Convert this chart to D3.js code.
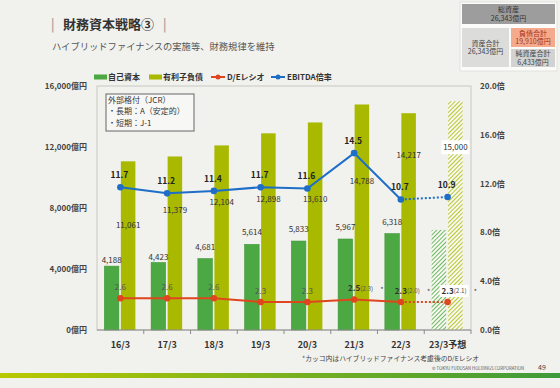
<!DOCTYPE html>
<html>
<head>
<meta charset="utf-8">
<script src="https://cdn.jsdelivr.net/npm/d3@7"></script>
<style>
  html, body { margin: 0; padding: 0; background: #f1f1ed; }
  svg { display: block; font-family: "Noto Sans CJK JP", "Noto Sans", sans-serif; }
</style>
</head>
<body>
<svg id="chart" width="560" height="388"></svg>
<script>
// data
const categories = ['16/3', '17/3', '18/3', '19/3', '20/3', '21/3', '22/3', '23/3予想'];
const equity = [4188, 4423, 4681, 5614, 5833, 5967, 6318, 6560];
const debt = [11061, 11379, 12104, 12898, 13610, 14788, 14217, 15000];
const ebitda = [11.7, 11.2, 11.4, 11.7, 11.6, 14.5, 10.7, 10.9];
const deRatio = [2.6, 2.6, 2.6, 2.3, 2.3, 2.5, 2.3, 2.3];
const deHybrid = [null, null, null, null, null, 2.3, 2.0, 2.1];
const leftTicks = [0, 4000, 8000, 12000, 16000];
const rightTicks = [0, 4, 8, 12, 16, 20];

// label placement (pixels, relative to bar top)
const equityLabelDy = [-3, -3, -9, -9, -9, -9, -9, null];
const debtLabelDy = [64, 54, 57, 66, 77, 77, 42, 46];

const svg = d3.select('#chart');
const W = 560, H = 388;
const plot = {left: 97, right: 471, top: 86, bottom: 330};
const nForecast = categories.length - 1;

const GREEN = '#4ca843', OLIVE = '#a8b900', RED = '#e0461e', BLUE = '#1e6ec8';

svg.append('rect').attr('width', W).attr('height', H).attr('fill', '#f1f1ed');

// hatch patterns for forecast bars
const defs = svg.append('defs');
function hatch(id, color) {
    const p = defs.append('pattern')
        .attr('id', id)
        .attr('patternUnits', 'userSpaceOnUse')
        .attr('width', 3).attr('height', 3)
        .attr('patternTransform', 'rotate(45)');
    p.append('rect').attr('width', 3).attr('height', 3).attr('fill', '#f7f8ef');
    p.append('line').attr('x1', 0).attr('y1', 0).attr('x2', 0).attr('y2', 3)
        .attr('stroke', color).attr('stroke-width', 1.6);
}
hatch('hatchGreen', GREEN);
hatch('hatchOlive', OLIVE);

const grad = defs.append('linearGradient').attr('id', 'footGrad');
grad.append('stop').attr('offset', '0%').attr('stop-color', '#b9c900');
grad.append('stop').attr('offset', '100%').attr('stop-color', '#3d9a3a');

// title
svg.append('text').attr('x', 51).attr('y', 29).attr('fill', '#8a8a8a')
    .attr('font-size', 13).text('|');
svg.append('text').attr('x', 63).attr('y', 29).attr('fill', '#333')
    .attr('font-size', 13).attr('font-weight', 'bold').text('財務資本戦略③');
svg.append('text').attr('x', 163).attr('y', 29).attr('fill', '#8a8a8a')
    .attr('font-size', 13).text('|');
svg.append('text').attr('x', 52).attr('y', 49.5).attr('fill', '#555')
    .attr('font-size', 9.3).text('ハイブリッドファイナンスの実施等、財務規律を維持');

// balance sheet box, top right
const bs = svg.append('g');
bs.append('rect').attr('x', 460).attr('y', 2).attr('width', 97).attr('height', 69)
    .attr('fill', '#fbfbfa').attr('stroke', '#e2e2de');
const bsBoxes = [
    {x: 462, y: 4, w: 93, h: 20, fill: '#9d9d9d', color: '#333', lines: ['総資産', '26,343億円']},
    {x: 462, y: 28, w: 47, h: 39, fill: '#dcdcda', color: '#444', lines: ['資産合計', '26,343億円']},
    {x: 511, y: 28, w: 44, h: 19, fill: '#f4aa8c', color: '#a5301a', lines: ['負債合計', '19,910億円']},
    {x: 511, y: 49, w: 44, h: 18, fill: '#d2d2d0', color: '#444', lines: ['純資産合計', '6,433億円']}
];
bsBoxes.forEach(b => {
    bs.append('rect').attr('x', b.x).attr('y', b.y).attr('width', b.w).attr('height', b.h)
        .attr('fill', b.fill);
    b.lines.forEach((t, i) => {
        bs.append('text')
            .attr('x', b.x + b.w / 2)
            .attr('y', b.y + b.h / 2 + (i - 0.5) * 8.5)
            .attr('dy', '0.35em')
            .attr('text-anchor', 'middle')
            .attr('font-size', 7)
            .attr('fill', b.color)
            .text(t);
    });
});

// legend
const legend = svg.append('g').attr('font-size', 8).attr('font-weight', 'bold').attr('fill', '#333');
legend.append('rect').attr('x', 94).attr('y', 74.5).attr('width', 13).attr('height', 5).attr('fill', GREEN);
legend.append('text').attr('x', 108).attr('y', 77).attr('dy', '0.35em').text('自己資本');
legend.append('rect').attr('x', 149).attr('y', 74.5).attr('width', 13).attr('height', 5).attr('fill', OLIVE);
legend.append('text').attr('x', 163).attr('y', 77).attr('dy', '0.35em').text('有利子負債');
[[211, RED, 'D/Eレシオ'], [271, BLUE, 'EBITDA倍率']].forEach(([lx, c, t]) => {
    legend.append('line').attr('x1', lx).attr('x2', lx + 14).attr('y1', 77).attr('y2', 77)
        .attr('stroke', c).attr('stroke-width', 2);
    legend.append('circle').attr('cx', lx + 7).attr('cy', 77).attr('r', 2.5).attr('fill', c);
    legend.append('text').attr('x', lx + 16).attr('y', 77).attr('dy', '0.35em').text(t);
});

// scales
const x = d3.scaleBand().domain(categories).range([plot.left, plot.right]).padding(0);
const yL = d3.scaleLinear().domain([0, 16000]).range([plot.bottom, plot.top]);
const yR = d3.scaleLinear().domain([0, 20]).range([plot.bottom, plot.top]);
const cx = c => x(c) + x.bandwidth() / 2;

// frame
svg.append('rect')
    .attr('x', plot.left).attr('y', plot.top)
    .attr('width', plot.right - plot.left).attr('height', plot.bottom - plot.top)
    .attr('fill', 'none').attr('stroke', '#cfcfcb').attr('stroke-width', 1.2);

// axes
const axisL = svg.append('g')
    .attr('transform', `translate(${plot.left},0)`)
    .call(d3.axisLeft(yL).tickValues(leftTicks).tickSize(0).tickPadding(10)
        .tickFormat(d => d3.format(',')(d) + '億円'));
axisL.select('.domain').remove();
axisL.selectAll('text').attr('font-size', 8).attr('font-weight', 'bold').attr('fill', '#444')
    .attr('font-family', '"Noto Sans CJK JP", sans-serif');

const axisR = svg.append('g')
    .attr('transform', `translate(${plot.right},0)`)
    .call(d3.axisRight(yR).tickValues(rightTicks).tickSize(0).tickPadding(9)
        .tickFormat(d => d3.format('.1f')(d) + '倍'));
axisR.select('.domain').remove();
axisR.selectAll('text').attr('font-size', 8).attr('font-weight', 'bold').attr('fill', '#444')
    .attr('font-family', '"Noto Sans CJK JP", sans-serif');

// bars
const barW = 14.5;
svg.selectAll('.eq').data(categories).enter().append('rect')
    .attr('class', 'eq')
    .attr('x', d => cx(d) - 16)
    .attr('y', (d, i) => yL(equity[i]))
    .attr('width', barW)
    .attr('height', (d, i) => plot.bottom - yL(equity[i]))
    .attr('fill', (d, i) => i === nForecast ? 'url(#hatchGreen)' : GREEN)
    .attr('stroke', (d, i) => i === nForecast ? 'none' : '#3f9638')
    .attr('stroke-width', 0.6);

svg.selectAll('.debt').data(categories).enter().append('rect')
    .attr('class', 'debt')
    .attr('x', d => cx(d) + 0.5)
    .attr('y', (d, i) => yL(debt[i]))
    .attr('width', barW)
    .attr('height', (d, i) => plot.bottom - yL(debt[i]))
    .attr('fill', (d, i) => i === nForecast ? 'url(#hatchOlive)' : OLIVE);

// bottom axis line, ticks, labels
svg.append('line').attr('x1', plot.left).attr('x2', plot.right)
    .attr('y1', plot.bottom).attr('y2', plot.bottom)
    .attr('stroke', '#8c8c8c').attr('stroke-width', 1.2);
svg.selectAll('.xtick').data(categories.slice(1).concat(['end'])).enter().append('line')
    .attr('x1', (d, i) => plot.left + (i + 1) * x.step())
    .attr('x2', (d, i) => plot.left + (i + 1) * x.step())
    .attr('y1', plot.bottom).attr('y2', plot.bottom + 4)
    .attr('stroke', '#8c8c8c');
const axisB = svg.append('g')
    .attr('transform', `translate(0,${plot.bottom})`)
    .call(d3.axisBottom(x).tickSize(0).tickPadding(12));
axisB.select('.domain').remove();
axisB.selectAll('text').attr('font-size', 9).attr('font-weight', 'bold').attr('fill', '#333')
    .attr('font-family', '"Noto Sans CJK JP", sans-serif');

// bar value labels
svg.selectAll('.eqLabel').data(categories.slice(0, nForecast)).enter().append('text')
    .attr('x', d => cx(d) - 16 + barW / 2)
    .attr('y', (d, i) => yL(equity[i]) + equityLabelDy[i])
    .attr('text-anchor', 'middle')
    .attr('font-size', 8).attr('fill', '#333')
    .text((d, i) => d3.format(',')(equity[i]));

const debtLabels = svg.selectAll('.debtLabel').data(categories).enter().append('g')
    .attr('transform', (d, i) => `translate(${cx(d) + 0.5 + barW / 2},${yL(debt[i]) + debtLabelDy[i]})`);
debtLabels.filter((d, i) => i === nForecast).append('rect')
    .attr('x', -14).attr('y', -7).attr('width', 28).attr('height', 14).attr('fill', '#fff');
debtLabels.append('text')
    .attr('text-anchor', 'middle').attr('dy', '0.35em')
    .attr('font-size', 8).attr('fill', '#333')
    .text((d, i) => d3.format(',')(debt[i]));

// lines: solid for actuals, dotted into forecast
function drawSeries(values, color) {
    const line = d3.line().x(d => cx(d.c)).y(d => yR(d.v));
    const pts = categories.map((c, i) => ({c: c, v: values[i]}));
    svg.append('path').datum(pts.slice(0, nForecast))
        .attr('fill', 'none').attr('stroke', color).attr('stroke-width', 2).attr('d', line);
    svg.append('path').datum(pts.slice(nForecast - 1))
        .attr('fill', 'none').attr('stroke', color).attr('stroke-width', 2)
        .attr('stroke-dasharray', '2,2').attr('d', line);
    svg.selectAll(null).data(pts).enter().append('circle')
        .attr('cx', d => cx(d.c)).attr('cy', d => yR(d.v))
        .attr('r', 3.3).attr('fill', color);
    return pts;
}

const dePts = drawSeries(deRatio, RED);
const ebPts = drawSeries(ebitda, BLUE);

// EBITDA labels
svg.selectAll('.ebLabel').data(ebPts).enter().append('text')
    .attr('x', d => cx(d.c) - 1)
    .attr('y', d => yR(d.v) - 12)
    .attr('dy', '0.35em')
    .attr('text-anchor', 'middle')
    .attr('font-size', 8.5).attr('font-weight', 'bold').attr('fill', '#222')
    .text(d => d3.format('.1f')(d.v));

// D/E labels, with hybrid-adjusted value in brackets
const deLabels = svg.selectAll('.deLabel').data(dePts).enter().append('g')
    .attr('transform', d => `translate(${cx(d.c)},${yR(d.v) - 11})`);
deLabels.filter((d, i) => i === nForecast).append('rect')
    .attr('x', -8).attr('y', -6).attr('width', 29).attr('height', 12).attr('fill', '#fff');
deLabels.append('text')
    .attr('text-anchor', 'middle').attr('dy', '0.35em')
    .attr('font-size', 8)
    .attr('font-weight', (d, i) => deHybrid[i] !== null ? 'bold' : 'normal')
    .attr('fill', (d, i) => deHybrid[i] !== null ? '#333' : '#555')
    .text(d => d3.format('.1f')(d.v));
deLabels.filter((d, i) => deHybrid[i] !== null).append('text')
    .attr('x', 6).attr('dy', '0.35em')
    .attr('font-size', 6.3).attr('fill', '#555')
    .text((d, i) => `(${d3.format('.1f')(deHybrid[dePts.indexOf(d)])})`);
deLabels.filter((d, i) => deHybrid[i] !== null).append('text')
    .attr('x', 26).attr('dy', '0.45em')
    .attr('font-size', 7).attr('fill', '#444')
    .text('*');

// rating note
const note = svg.append('g');
note.append('rect').attr('x', 106).attr('y', 94).attr('width', 88).attr('height', 37)
    .attr('fill', '#f7f7f5').attr('stroke', '#666').attr('stroke-width', 1);
['外部格付（JCR）', '・長期：A（安定的）', '・短期：J-1'].forEach((t, i) => {
    note.append('text').attr('x', 108).attr('y', 103 + i * 11.3)
        .attr('font-size', 8).attr('fill', '#333').text(t);
});

// footnotes
svg.append('text').attr('x', 302).attr('y', 360.5).attr('font-size', 6.8).attr('fill', '#444')
    .text('*カッコ内はハイブリッドファイナンス考慮後のD/Eレシオ');
svg.append('text').attr('x', 432).attr('y', 369.5).attr('font-size', 4.3).attr('fill', '#555')
    .text('© TOKYU FUDOSAN HOLDINGS CORPORATION');
svg.append('text').attr('x', 538).attr('y', 370).attr('font-size', 7).attr('fill', '#444')
    .text('49');
svg.append('rect').attr('x', 0).attr('y', 373).attr('width', W).attr('height', 5)
    .attr('fill', 'url(#footGrad)');
</script>
</body>
</html>
